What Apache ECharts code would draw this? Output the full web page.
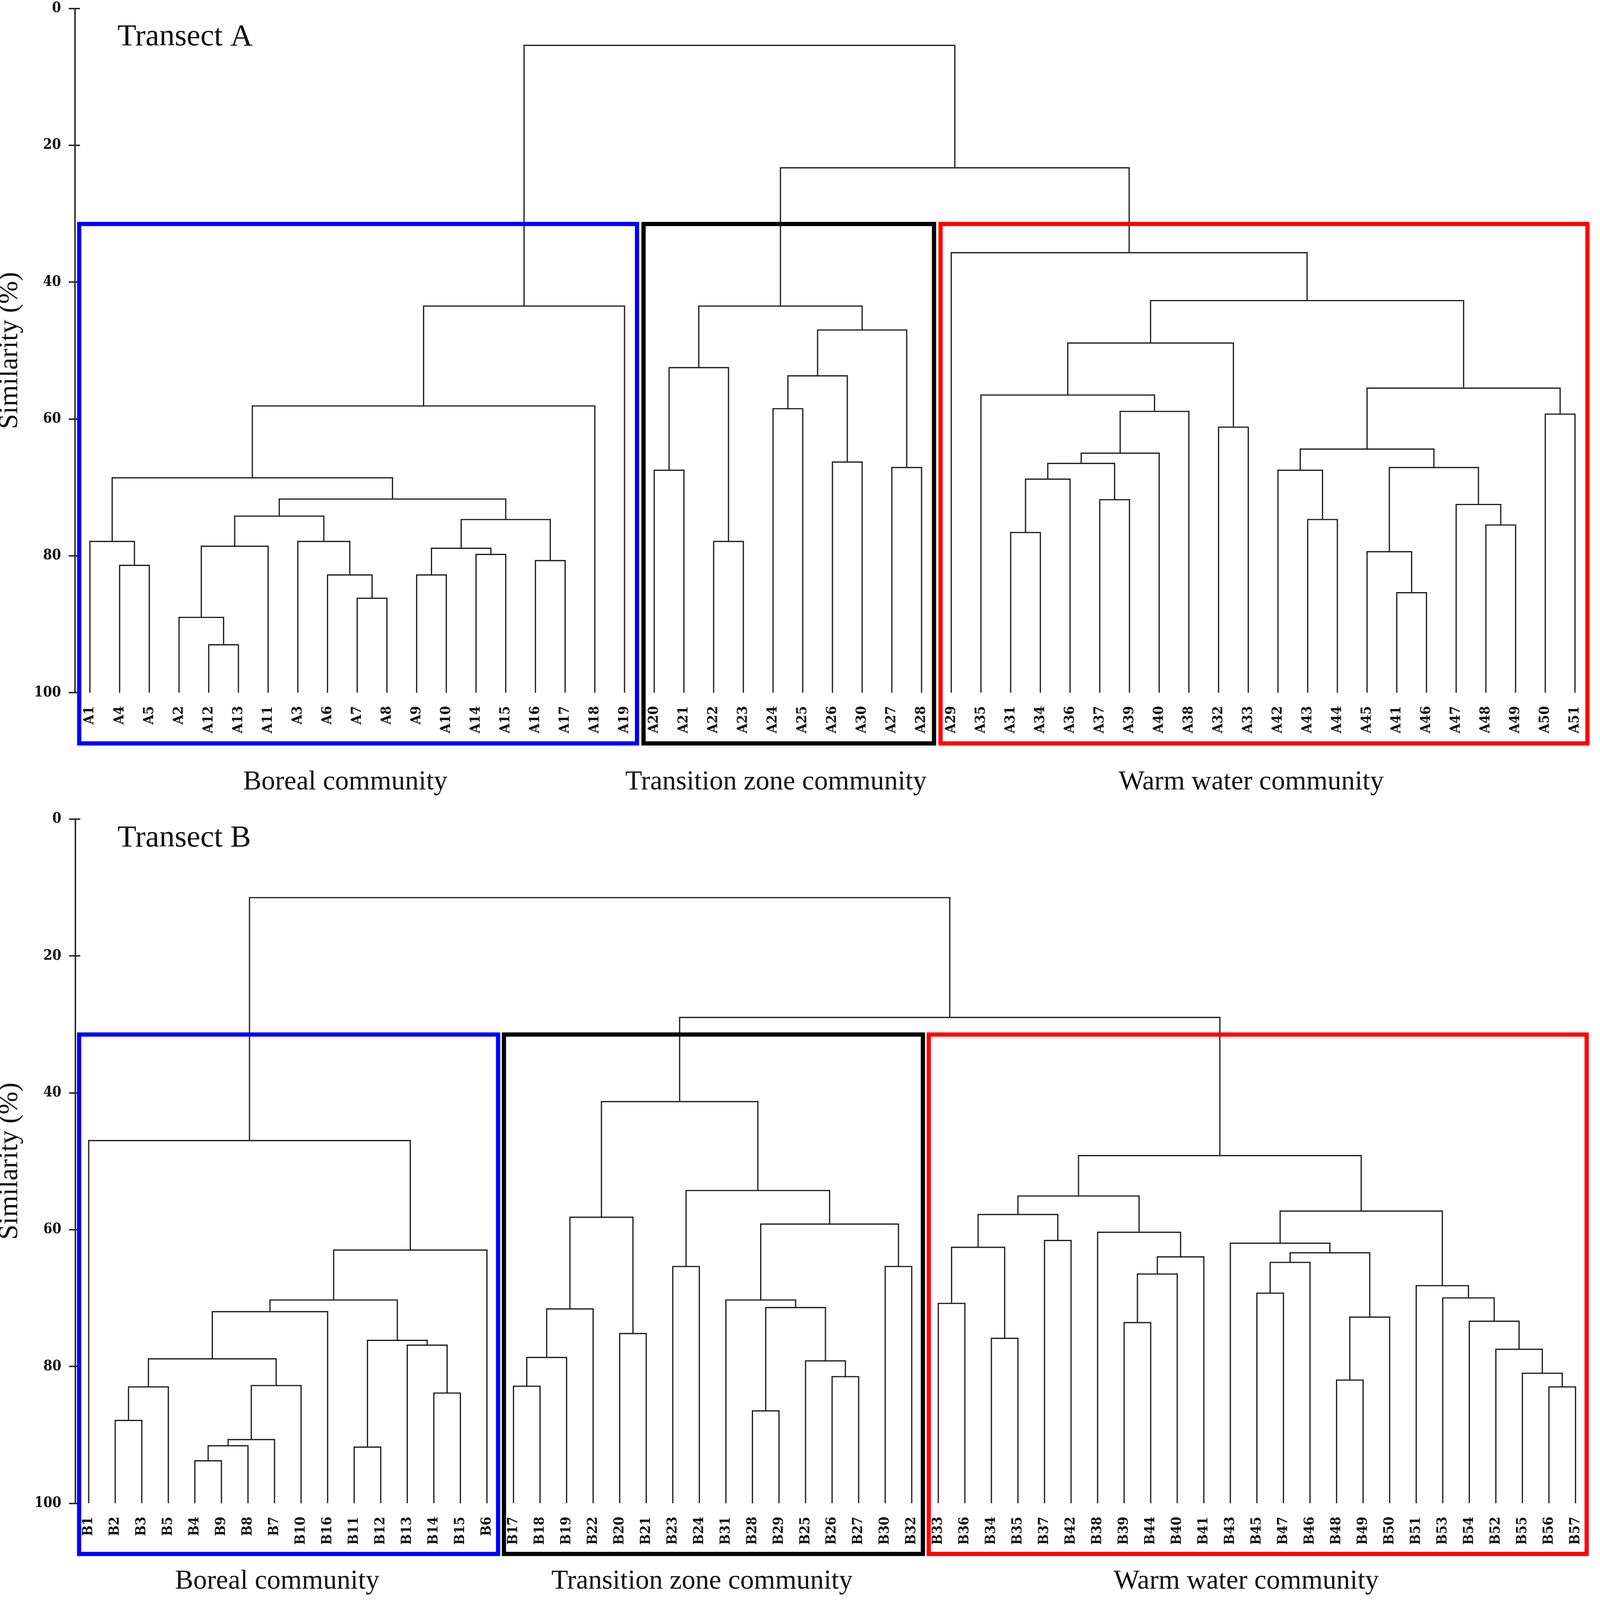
<!DOCTYPE html>
<html>
<head>
<meta charset="utf-8">
<title>Cluster dendrograms, transects A and B</title>
<script src="https://cdn.jsdelivr.net/npm/echarts@6/dist/echarts.min.js"></script>
<style>
    html, body { margin: 0; padding: 0; background: #ffffff; overflow: hidden; }
    #chart { width: 100vw; height: 100vh; }
</style>
</head>
<body>
<div id="chart"></div>
<script>
// Leaf order of transect A (left to right)
const leavesA = ["A1", "A4", "A5", "A2", "A12", "A13", "A11", "A3", "A6", "A7", "A8", "A9", "A10", "A14", "A15", "A16", "A17", "A18", "A19",
    "A20", "A21", "A22", "A23", "A24", "A25", "A26", "A30", "A27", "A28",
    "A29", "A35", "A31", "A34", "A36", "A37", "A39", "A40", "A38", "A32", "A33", "A42", "A43", "A44", "A45", "A41", "A46", "A47", "A48", "A49", "A50", "A51"];

// Merges: [left child, right child, similarity %]. A child is a leaf name or the index of an earlier merge
const mergesA = [
    ["A4", "A5", 81.4], ["A1", 0, 77.9], ["A12", "A13", 93.0], ["A2", 2, 89.0], [3, "A11", 78.6],
    ["A7", "A8", 86.2], ["A6", 5, 82.8], ["A3", 6, 77.9], [4, 7, 74.2], ["A9", "A10", 82.8],
    ["A14", "A15", 79.8], [9, 10, 78.9], ["A16", "A17", 80.7], [11, 12, 74.7], [8, 13, 71.7],
    [1, 14, 68.6], [15, "A18", 58.1], [16, "A19", 43.5],
    ["A20", "A21", 67.5], ["A22", "A23", 77.9], [18, 19, 52.5], ["A24", "A25", 58.5], ["A26", "A30", 66.3],
    [21, 22, 53.7], ["A27", "A28", 67.1], [23, 24, 47.0], [20, 25, 43.5],
    ["A31", "A34", 76.6], [27, "A36", 68.8], ["A37", "A39", 71.8], [28, 29, 66.5], [30, "A40", 65.0],
    [31, "A38", 58.9], ["A35", 32, 56.5], ["A32", "A33", 61.2], [33, 34, 48.9], ["A43", "A44", 74.7],
    ["A42", 36, 67.5], ["A41", "A46", 85.4], ["A45", 38, 79.4], ["A48", "A49", 75.5], ["A47", 40, 72.5],
    [39, 41, 67.1], [37, 42, 64.4], ["A50", "A51", 59.3], [43, 44, 55.5], [35, 45, 42.7],
    ["A29", 46, 35.7], [26, 47, 23.3], [17, 48, 5.4]
];

// Communities of transect A: [first leaf, last leaf, name]
const communitiesA = [
    ["A1", "A19", "Boreal community"],
    ["A20", "A28", "Transition zone community"],
    ["A29", "A51", "Warm water community"]
];

// Leaf order of transect B (left to right)
const leavesB = ["B1", "B2", "B3", "B5", "B4", "B9", "B8", "B7", "B10", "B16", "B11", "B12", "B13", "B14", "B15", "B6",
    "B17", "B18", "B19", "B22", "B20", "B21", "B23", "B24", "B31", "B28", "B29", "B25", "B26", "B27", "B30", "B32",
    "B33", "B36", "B34", "B35", "B37", "B42", "B38", "B39", "B44", "B40", "B41", "B43", "B45", "B47", "B46", "B48",
    "B49", "B50", "B51", "B53", "B54", "B52", "B55", "B56", "B57"];

const mergesB = [
    ["B2", "B3", 87.9], [0, "B5", 83.0], ["B4", "B9", 93.8], [2, "B8", 91.6], [3, "B7", 90.7],
    [4, "B10", 82.8], [1, 5, 78.9], [6, "B16", 72.0], ["B11", "B12", 91.8], ["B14", "B15", 83.9],
    ["B13", 9, 76.9], [8, 10, 76.2], [7, 11, 70.3], [12, "B6", 63.0], ["B1", 13, 47.0],
    ["B17", "B18", 82.9], [15, "B19", 78.7], [16, "B22", 71.6], ["B20", "B21", 75.2], [17, 18, 58.2],
    ["B23", "B24", 65.4], ["B28", "B29", 86.5], ["B26", "B27", 81.5], ["B25", 22, 79.2], [21, 23, 71.4],
    ["B31", 24, 70.3], ["B30", "B32", 65.4], [25, 26, 59.2], [20, 27, 54.3], [19, 28, 41.3],
    ["B33", "B36", 70.8], ["B34", "B35", 75.9], [30, 31, 62.6], ["B37", "B42", 61.6], [32, 33, 57.8],
    ["B39", "B44", 73.6], [35, "B40", 66.5], [36, "B41", 64.0], ["B38", 37, 60.4], [34, 38, 55.1],
    ["B45", "B47", 69.3], [40, "B46", 64.8], ["B48", "B49", 82.0], [42, "B50", 72.8], [41, 43, 63.4],
    ["B43", 44, 62.0], ["B56", "B57", 83.0], ["B55", 46, 81.0], ["B52", 47, 77.5], ["B54", 48, 73.4],
    ["B53", 49, 70.0], ["B51", 50, 68.2], [45, 51, 57.3], [39, 52, 49.2], [29, 53, 29.0],
    [14, 54, 11.5]
];

const communitiesB = [
    ["B1", "B6", "Boreal community"],
    ["B17", "B32", "Transition zone community"],
    ["B33", "B57", "Warm water community"]
];

// similarity level where the community boxes start
const boxLevel = 31.5;

const boxColors = ["#0000ff", "#000000", "#ff0000"];
const lineColor = "#1e1e1e";
const serif = "'Liberation Serif', 'Times New Roman', serif";
const boldSerif = "'DejaVu Serif Condensed', 'DejaVu Serif', serif";

//Layout was measured on a 4562 x 4382 picture, scale it to the real window
const sx = window.innerWidth / 4562;
const sy = window.innerHeight / 4382;
const k = Math.min(sx, sy);

//Turn the merge list into U shaped links: [x left, x right, y left, y right, height]
function buildLinks(leaves, merges) {
    const nodes = [];
    const links = [];
    const place = (c) => typeof c === "number" ? nodes[c] : [leaves.indexOf(c), 100];
    merges.forEach(([a, b, h]) => {
        const pa = place(a);
        const pb = place(b);
        nodes.push([(pa[0] + pb[0]) / 2, h]);
        links.push([pa[0], pb[0], pa[1], pb[1], h]);
    });
    return links;
}

function boxData(leaves, communities) {
    return communities.map(c => [leaves.indexOf(c[0]), leaves.indexOf(c[1])]);
}

function renderLink(params, api) {
    const h = api.value(4);
    return {
        type: "polyline",
        shape: {
            points: [
                api.coord([api.value(0), api.value(2)]),
                api.coord([api.value(0), h]),
                api.coord([api.value(1), h]),
                api.coord([api.value(1), api.value(3)])
            ]
        },
        style: { stroke: lineColor, lineWidth: 3.5 * k, fill: null }
    };
}

function boxRenderer(communities, textGap) {
    return function (params, api) {
        const i = params.dataIndex;
        const first = api.value(0);
        const last = api.value(1);
        const x0 = api.coord([first - 0.36, boxLevel])[0];
        const x1 = api.coord([last + 0.42, boxLevel])[0];
        const yTop = api.coord([first, boxLevel])[1];
        const yBottom = api.coord([first, 100])[1] + 139 * sy;
        const cx = api.coord([(first + last) / 2 - 0.4, 0])[0];
        return {
            type: "group",
            children: [
                {
                    type: "rect",
                    shape: { x: x0, y: yTop, width: x1 - x0, height: yBottom - yTop },
                    style: { fill: null, stroke: boxColors[i], lineWidth: 12 * k }
                },
                {
                    type: "text",
                    style: {
                        text: communities[i][2],
                        x: cx,
                        y: yBottom + textGap * sy,
                        align: "center",
                        verticalAlign: "middle",
                        fontFamily: serif,
                        fontSize: 78 * k,
                        fill: "#111"
                    }
                }
            ]
        };
    };
}

function categoryAxis(grid, leaves) {
    return {
        type: "category",
        gridIndex: grid,
        data: leaves,
        axisLine: { show: false },
        axisTick: { show: false },
        splitLine: { show: false },
        axisLabel: {
            interval: 0,
            rotate: 90,
            margin: 38 * k,
            fontFamily: boldSerif,
            fontWeight: "bold",
            fontSize: 40 * k,
            color: "#111"
        }
    };
}

function hiddenValueAxis(grid, leaves) {
    return {
        type: "value",
        gridIndex: grid,
        min: -0.5,
        max: leaves.length - 0.5,
        show: false
    };
}

function similarityAxis(grid) {
    return {
        type: "value",
        gridIndex: grid,
        position: "left",
        inverse: true,
        min: 0,
        max: 100,
        interval: 20,
        name: "Similarity (%)",
        nameLocation: "middle",
        nameGap: 147 * k,
        nameMoveOverlap: false,
        nameTextStyle: { fontFamily: serif, fontSize: 78 * k, color: "#111" },
        axisLine: { show: true, onZero: false, lineStyle: { color: lineColor, width: 4 * k } },
        axisTick: { show: true, length: 18 * k, lineStyle: { color: lineColor, width: 4 * k } },
        splitLine: { show: false },
        axisLabel: {
            margin: 40 * k,
            fontFamily: boldSerif,
            fontWeight: "bold",
            fontSize: 41 * k,
            color: "#111"
        }
    };
}

// second copy of the similarity axis only for the inner half of the ticks
function innerTickAxis(grid) {
    return {
        type: "value",
        gridIndex: grid,
        position: "left",
        inverse: true,
        min: 0,
        max: 100,
        interval: 20,
        axisLine: { show: false, onZero: false },
        axisLabel: { show: false },
        splitLine: { show: false },
        axisTick: { show: true, inside: true, length: 14 * k, lineStyle: { color: lineColor, width: 4 * k } }
    };
}

const chartDom = document.getElementById("chart");
const myChart = echarts.init(chartDom, null, { renderer: "canvas" });

const option = {
    animation: false,
    backgroundColor: "#ffffff",
    grid: [
        { left: 214 * sx, right: 29 * sx, top: 23 * sy, height: 1874 * sy, outerBoundsMode: "none", containLabel: false },
        { left: 215 * sx, right: 32 * sx, top: 2243 * sy, height: 1874 * sy, outerBoundsMode: "none", containLabel: false }
    ],
    xAxis: [
        categoryAxis(0, leavesA),
        hiddenValueAxis(0, leavesA),
        categoryAxis(1, leavesB),
        hiddenValueAxis(1, leavesB)
    ],
    yAxis: [
        similarityAxis(0),
        innerTickAxis(0),
        similarityAxis(1),
        innerTickAxis(1)
    ],
    graphic: [
        {
            type: "text", x: 335 * sx, y: 102 * sy,
            style: { text: "Transect A", fontFamily: serif, fontSize: 88 * k, fill: "#111", verticalAlign: "middle" }
        },
        {
            type: "text", x: 335 * sx, y: 2296 * sy,
            style: { text: "Transect B", fontFamily: serif, fontSize: 88 * k, fill: "#111", verticalAlign: "middle" }
        }
    ],
    series: [
        {
            type: "custom",
            name: "Transect A",
            xAxisIndex: 1,
            yAxisIndex: 0,
            clip: false,
            renderItem: renderLink,
            data: buildLinks(leavesA, mergesA)
        },
        {
            type: "custom",
            name: "Communities A",
            xAxisIndex: 1,
            yAxisIndex: 0,
            clip: false,
            renderItem: boxRenderer(communitiesA, 106),
            data: boxData(leavesA, communitiesA)
        },
        {
            type: "custom",
            name: "Transect B",
            xAxisIndex: 3,
            yAxisIndex: 2,
            clip: false,
            renderItem: renderLink,
            data: buildLinks(leavesB, mergesB)
        },
        {
            type: "custom",
            name: "Communities B",
            xAxisIndex: 3,
            yAxisIndex: 2,
            clip: false,
            renderItem: boxRenderer(communitiesB, 75),
            data: boxData(leavesB, communitiesB)
        }
    ]
};

myChart.setOption(option);

window.addEventListener("resize", function () {
    myChart.resize();
});
</script>
</body>
</html>
